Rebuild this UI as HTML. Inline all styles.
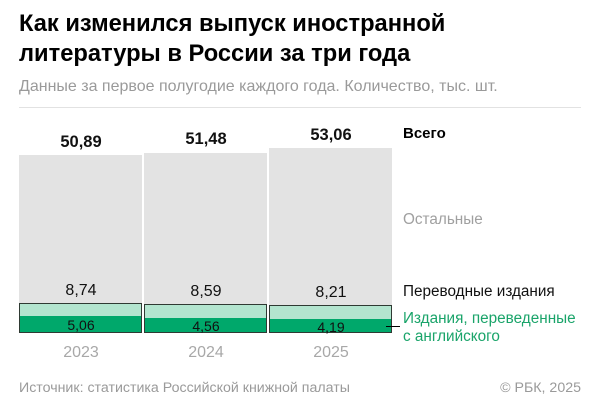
<!DOCTYPE html>
<html><head><meta charset="utf-8"><style>
body{margin:0;width:600px;height:413px;background:#fff;font-family:"Liberation Sans","Noto Sans CJK SC",sans-serif;position:relative;overflow:hidden}
.a{position:absolute;white-space:nowrap}
</style></head><body>
<div class="a" style="left:19px;top:9px;font-size:23.7px;font-weight:bold;line-height:30px;color:#000">Как изменился выпуск иностранной<br>литературы в России за три года</div>
<div class="a" style="left:19px;top:78px;font-size:16px;color:#9a9a9a">Данные за первое полугодие каждого года. Количество, тыс. шт.</div>
<div class="a" style="left:19px;top:107px;width:562px;height:1px;background:#e2e2e2"></div>
<svg class="a" style="left:0;top:0" width="600" height="413">
<rect x="19" y="155" width="123" height="178" fill="#e3e3e3"/>
<rect x="144" y="153" width="123" height="180" fill="#e3e3e3"/>
<rect x="269" y="148" width="123" height="185" fill="#e3e3e3"/>
<rect x="19.5" y="303.5" width="122" height="29" fill="#b3e5cf" stroke="#2f3a33"/>
<rect x="20" y="316" width="121" height="16" fill="#00a86b"/>
<rect x="144.5" y="304.5" width="122" height="28" fill="#b3e5cf" stroke="#2f3a33"/>
<rect x="145" y="318" width="121" height="14" fill="#00a86b"/>
<rect x="269.5" y="305.5" width="122" height="27" fill="#b3e5cf" stroke="#2f3a33"/>
<rect x="270" y="319" width="121" height="13" fill="#00a86b"/>
<line x1="386" y1="326.5" x2="400" y2="326.5" stroke="#000" stroke-width="1"/>
<g font-family="Liberation Sans" text-anchor="middle">
<g font-size="16.5" font-weight="bold" fill="#111"><text x="81" y="147">50,89</text><text x="206" y="144">51,48</text><text x="331" y="140">53,06</text></g>
<g font-size="16" fill="#111"><text x="81" y="295">8,74</text><text x="206" y="296">8,59</text><text x="331" y="297">8,21</text></g>
<g font-size="14" fill="#111"><text x="81" y="330">5,06</text><text x="206" y="331">4,56</text><text x="331" y="332">4,19</text></g>
<g font-size="16" fill="#a8a8a8"><text x="81" y="357">2023</text><text x="206" y="357">2024</text><text x="331" y="357">2025</text></g>
</g>
<g font-family="Liberation Sans" font-size="15.3">
<text x="403" y="138" fill="#000" font-weight="bold" font-size="15">Всего</text>
<text x="403" y="224" fill="#a0a0a0">Остальные</text>
<text x="403" y="296" fill="#111">Переводные издания</text>
<text x="403" y="323" fill="#1aa46a">Издания, переведенные</text>
<text x="403" y="341" fill="#1aa46a">с английского</text>
<text x="19" y="392" fill="#9a9a9a" font-size="14.2">Источник: статистика Российской книжной палаты</text>
<text x="581" y="392" fill="#9a9a9a" font-size="14.2" text-anchor="end">© РБК, 2025</text>
</g>
</svg>
</body></html>
